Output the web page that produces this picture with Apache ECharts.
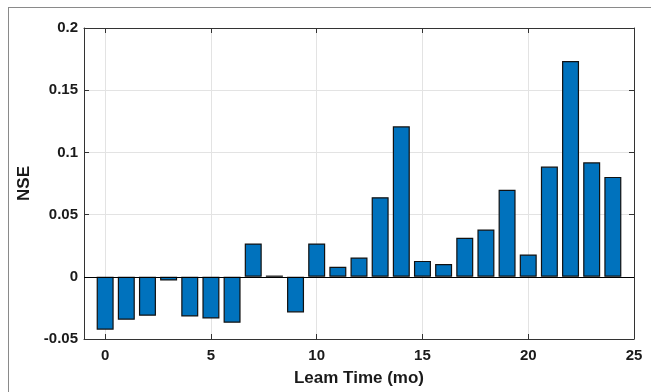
<!DOCTYPE html>
<html>
<head>
<meta charset="utf-8">
<script src="https://cdn.jsdelivr.net/npm/echarts@6/dist/echarts.min.js"></script>
<style>
  html, body { margin: 0; padding: 0; background: #fff; overflow: hidden; }
  #frame { position: absolute; left: 8px; top: 7px; width: 643px; height: 385px;
           border-top: 1.5px solid #8a8a8a; border-left: 1.5px solid #8a8a8a; box-sizing: border-box; }
  #chart { position: absolute; left: 0; top: 0; width: 651px; height: 392px; }
</style>
</head>
<body>
<div id="frame"></div>
<div id="chart"></div>
<script>
// lead time (months) and NSE values
const months = [0, 1, 2, 3, 4, 5, 6, 7, 8, 9, 10, 11, 12, 13, 14, 15, 16, 17, 18, 19, 20, 21, 22, 23, 24]
const nse = [-0.0425, -0.0345, -0.0313, -0.003, -0.0319, -0.0335, -0.0369, 0.0268, 0.001, -0.0286,
    0.0268, 0.008, 0.0155, 0.064, 0.121, 0.0128, 0.0102, 0.0313, 0.038, 0.0699,
    0.0179, 0.0886, 0.1734, 0.092, 0.0803]
const xTicks = [0, 5, 10, 15, 20, 25]

let chart = echarts.init(document.getElementById('chart'))
let font = 'Liberation Sans, Arial, sans-serif'
let axisColor = '#333'
let textColor = '#1a1a1a'

let barData = []
for (let i = 0; i < months.length; i++) {
    barData.push([months[i], nse[i]])
}

let option = {
    animation: false,
    grid: { left: 84, top: 28, right: 17, bottom: 52 },
    xAxis: [
        {
            type: 'value',
            min: -1,
            max: 25,
            name: 'Leam Time (mo)',
            nameLocation: 'middle',
            nameGap: 31,
            nameTextStyle: { fontFamily: font, fontWeight: 'bold', fontSize: 17, color: textColor },
            axisLine: { show: true, onZero: false, lineStyle: { color: axisColor, width: 1 } },
            axisTick: { show: true, inside: true, length: 5, customValues: xTicks, lineStyle: { color: axisColor } },
            axisLabel: { customValues: xTicks, margin: 9, fontFamily: font, fontWeight: 'bold', fontSize: 15, color: textColor },
            splitLine: { show: true, lineStyle: { color: '#e3e3e3', width: 1 } }
        },
        {
            type: 'value',
            position: 'top',
            min: -1,
            max: 25,
            axisLine: { show: true, onZero: false, lineStyle: { color: axisColor, width: 1 } },
            axisTick: { show: true, inside: true, length: 5, customValues: xTicks, lineStyle: { color: axisColor } },
            axisLabel: { show: false },
            splitLine: { show: false }
        }
    ],
    yAxis: [
        {
            type: 'value',
            min: -0.05,
            max: 0.2,
            interval: 0.05,
            name: 'NSE',
            nameLocation: 'middle',
            nameGap: 47,
            nameTextStyle: { fontFamily: font, fontWeight: 'bold', fontSize: 17, color: textColor },
            axisLine: { show: true, onZero: false, lineStyle: { color: axisColor, width: 1 } },
            axisTick: { show: true, inside: true, length: 5, lineStyle: { color: axisColor } },
            axisLabel: { margin: 6, fontFamily: font, fontWeight: 'bold', fontSize: 15, color: textColor },
            splitLine: { show: true, lineStyle: { color: '#e3e3e3', width: 1 } }
        },
        {
            type: 'value',
            position: 'right',
            min: -0.05,
            max: 0.2,
            interval: 0.05,
            axisLine: { show: true, onZero: false, lineStyle: { color: axisColor, width: 1 } },
            axisTick: { show: true, inside: true, length: 5, lineStyle: { color: axisColor } },
            axisLabel: { show: false },
            splitLine: { show: false }
        }
    ],
    series: [
        {
            type: 'bar',
            xAxisIndex: 0,
            yAxisIndex: 0,
            data: barData,
            barWidth: 17,
            itemStyle: { color: '#0072BD', borderColor: '#111', borderWidth: 1.2 },
            markLine: {
                silent: true,
                symbol: 'none',
                label: { show: false },
                lineStyle: { color: '#000', width: 1, type: 'solid' },
                data: [{ yAxis: 0 }]
            }
        }
    ]
}
chart.setOption(option)
</script>
</body>
</html>
